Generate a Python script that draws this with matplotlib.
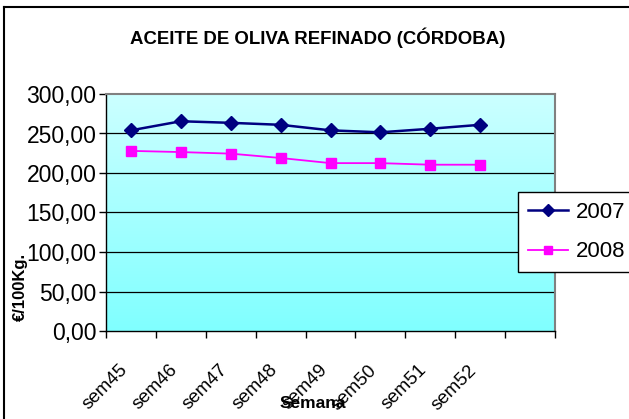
import numpy as np
import matplotlib.pyplot as plt
import matplotlib.transforms as mtransforms
from matplotlib.colors import LinearSegmentedColormap

# datos: precio semanal (€/100Kg.)
semanas = ['sem45', 'sem46', 'sem47', 'sem48', 'sem49', 'sem50', 'sem51', 'sem52', '']
serie_2007 = [254.0, 265.5, 263.5, 261.0, 254.0, 251.5, 256.0, 261.0]
serie_2008 = [228.0, 226.5, 224.5, 219.0, 212.5, 212.5, 210.5, 210.5]

plt.rcParams['font.family'] = ['Liberation Sans', 'DejaVu Sans']

W, H = 629, 419
fig = plt.figure(figsize=(W / 100, H / 100), dpi=100)
ax = fig.add_axes([106 / W, 1 - 331 / H, (555 - 106) / W, (331 - 94) / H])

n = len(semanas)
# fondo degradado (abajo mas intenso)
grad = np.linspace(0, 1, 256).reshape(-1, 1)
cmap = LinearSegmentedColormap.from_list('fondo', ['#80ffff', '#ccffff'])
ax.imshow(grad, cmap=cmap, aspect='auto', extent=[0, n, 0, 300], origin='lower', zorder=0)

x = np.arange(len(serie_2007)) + 0.5
ax.plot(x, serie_2007, color='#000080', marker='D', markersize=7, lw=1.8, label='2007', zorder=3)
ax.plot(x, serie_2008, color='#ff00ff', marker='s', markersize=7, lw=1.3, label='2008', zorder=3)

ax.set_xlim(0, n)
ax.set_ylim(0, 300)
ax.set_yticks(np.arange(0, 301, 50))
ax.yaxis.set_major_formatter(plt.FuncFormatter(lambda v, p: ('%.2f' % v).replace('.', ',')))
ax.tick_params(axis='y', labelsize=16.5)
for yv in range(50, 300, 50):
    ax.axhline(yv, color='black', lw=0.9, zorder=1)

ax.set_xticks(np.arange(0, n + 1))
ax.set_xticklabels([])
ax.set_xticks(np.arange(n) + 0.5, minor=True)
ax.set_xticklabels(semanas, minor=True, rotation=45, ha='right', rotation_mode='anchor', fontsize=13.5)
ax.tick_params(axis='x', which='minor', length=0, pad=22)
ax.tick_params(axis='x', which='major', length=5, direction='out', width=1)
ax.tick_params(axis='y', length=5, direction='out', width=1, pad=2)
desplaza = mtransforms.ScaledTranslation(-12 / 100, 0, fig.dpi_scale_trans)
for lab in ax.xaxis.get_minorticklabels():
    lab.set_transform(lab.get_transform() + desplaza)

for s in ['top', 'right']:
    ax.spines[s].set_color('#808080')
    ax.spines[s].set_linewidth(1.5)
for s in ['left', 'bottom']:
    ax.spines[s].set_color('black')
    ax.spines[s].set_linewidth(1.0)

fig.text(318 / W, 1 - 38 / H, 'ACEITE DE OLIVA REFINADO (CÓRDOBA)', ha='center', va='center',
         fontsize=13.4, fontweight='bold')
fig.text(20 / W, 1 - 287 / H, '€/100Kg.', rotation=90, ha='center', va='center',
         fontsize=12, fontweight='bold')
fig.text(313 / W, 1 - 403 / H, 'Semana', ha='center', va='center', fontsize=12.5, fontweight='bold')

leg = fig.legend(loc='center', bbox_to_anchor=(577 / W, 1 - 232 / H), fontsize=16, frameon=True,
                 fancybox=False, edgecolor='black', framealpha=1, handlelength=1.8,
                 borderpad=0.45, labelspacing=0.85, handletextpad=0.35, markerscale=0.85)
leg.get_frame().set_linewidth(1.0)

# borde del grafico
fig.add_artist(plt.Line2D([4 / W, 4 / W], [0, 1 - 7.5 / H], color='black', lw=1.5, transform=fig.transFigure))
fig.add_artist(plt.Line2D([4 / W, 1], [1 - 7.5 / H, 1 - 7.5 / H], color='black', lw=1.5, transform=fig.transFigure))

fig.savefig('out.png', dpi=100)
